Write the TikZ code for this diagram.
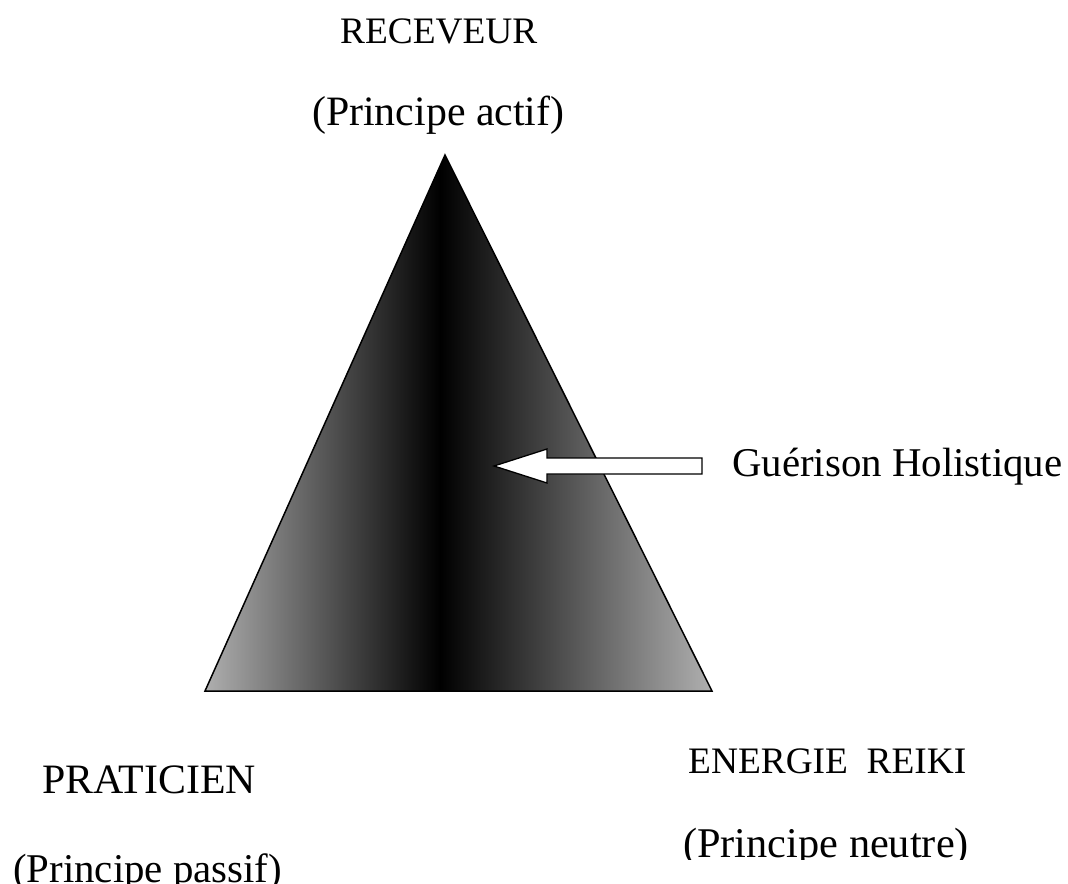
\documentclass[tikz,border=0pt]{standalone}
\usepackage{fontspec}
\setmainfont{Liberation Serif}
\begin{document}
\begin{tikzpicture}[x=1bp,y=-1bp,
  lbl/.style={inner sep=0pt, anchor=base west},
  capsA/.style={lbl, font=\fontsize{37.5}{40}\selectfont},
  capsB/.style={lbl, font=\fontsize{42}{45}\selectfont},
  parenA/.style={lbl, font=\fontsize{42}{45}\selectfont},
  parenB/.style={lbl, font=\fontsize{41}{44}\selectfont},
  triedge/.style={line width=1.5bp, line join=miter, draw=black},
  blockarrow/.style={line width=1.3bp, draw=black, fill=white, line join=miter}]
\useasboundingbox (0,0) rectangle (1068,884);
% triangle
\coordinate (A) at (445,155);
\coordinate (L) at (205,691);
\coordinate (R) at (712,691);
\begin{scope}
  \clip (A) -- (L) -- (R) -- cycle;
  \shade[left color=black!30, right color=black] (200,150) rectangle (440.6,695);
  \shade[left color=black, right color=black!30] (440,150) rectangle (716,695);
\end{scope}
\draw[triedge] (A) -- (L) -- (R) -- cycle;
% texts
\node[capsA] (rec) at (340,43) {RECEVEUR};
\node[parenA] (act) at (312,125) {(Principe actif)};
\node[capsB] (prat) at (42,793) {PRATICIEN};
\node[parenB] (pas) at (13,882) {(Principe passif)};
\node[capsA] (ener) at (688,773) {ENERGIE\ \ REIKI};
\begin{scope}
  \clip (600,800) rectangle (1068,859);
  \node[lbl, font=\fontsize{42.5}{45}\selectfont] (neu) at (683,857) {(Principe neutre)};
\end{scope}
\node[parenB] (heal) at (732,476) {Guérison Holistique};
% block arrow
\coordinate (tip) at (494,466);
\coordinate (tail) at (702,466);
\draw[blockarrow] (tip) -- (547,449) -- (547,458) -- (tail |- 0,458) -- (tail |- 0,474) -- (547,474) -- (547,483) -- cycle;
\end{tikzpicture}
\end{document}
